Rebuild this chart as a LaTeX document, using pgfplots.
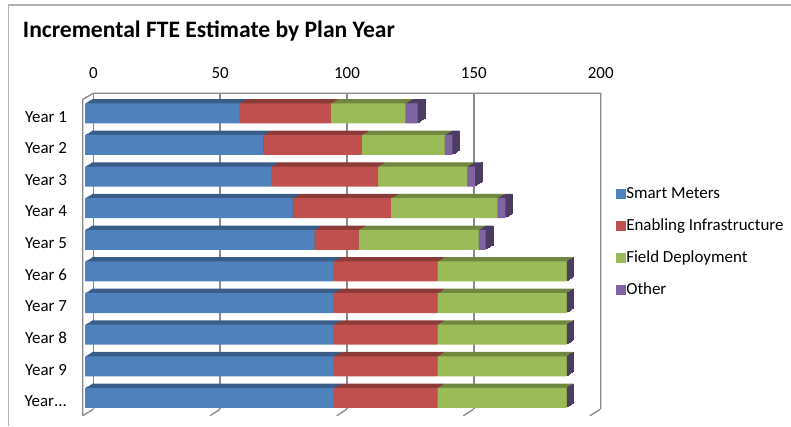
\documentclass[border=0pt]{standalone}
\usepackage{fontspec}
\setmainfont{Carlito}
\usepackage{pgfplots}
\usepackage{pgfplotstable}
\pgfplotsset{compat=1.18}
\definecolor{cSM}{HTML}{4F81BD}
\definecolor{cEI}{HTML}{C0504D}
\definecolor{cFD}{HTML}{9BBB59}
\definecolor{cOT}{HTML}{8064A2}
\definecolor{gridc}{HTML}{8A8A8A}
\newcommand{\yrdots}{Year\kern0pt.\kern0pt.\kern0pt.}
% pos: 10 = Year 1 (top), 1 = Year 10 (bottom)
\pgfplotstableread{
pos sm ei fd ot
10 61.2 36.4 29.5 4.9
9 70.8 39.0 32.9 3.1
8 73.9 42.4 35.3 3.1
7 82.4 39.0 42.2 3.2
6 91.0 17.6 47.6 2.8
5 98.7 41.1 51.3 0
4 98.7 41.1 51.3 0
3 98.7 41.1 51.3 0
2 98.7 41.1 51.3 0
1 98.7 41.1 51.3 0
}\datatable
\begin{document}
\begin{tikzpicture}[x=0.75pt,y=-0.75pt]
\useasboundingbox (0,0) rectangle (791,426);
\draw[color=gray!60, line width=0.8pt] (8.3,426) -- (8.3,5) -- (791,5);
\node[anchor=base west, font=\fontsize{17.7}{20}\selectfont\bfseries, inner sep=0] at (22.7,37.5) {Incremental FTE Estimate by Plan Year};
% back wall with grid
\begin{axis}[at={(69.975pt,-306.975pt)}, anchor=south west, scale only axis,
  width=380.55pt, height=237pt, xmin=0, xmax=200, ymin=0, ymax=1,
  axis line style={draw=none}, xtick={0,50,100,150,200}, ytick=\empty,
  xticklabel pos=upper, major tick length=0pt,
  xmajorgrids, grid style={color=gridc, line width=1pt},
  xticklabel shift=7.8pt,
  tick label style={font=\fontsize{12.7}{14}\selectfont},
  /pgf/number format/assume math mode=true]
\addplot[draw=none] coordinates {(0,0)};
\end{axis}
\draw[color=gridc, line width=1pt] (82.7,415.7) -- (82.7,99.3) -- (93.3,93.3) -- (600.7,93.3) -- (600.7,409.3);
\draw[color=gridc, line width=1pt] (82.7,415.7) -- (93.3,409.3);
\foreach \v in {50,100,150,200} {
  \draw[color=gridc, line width=1pt] ({83.5+2.532*\v},415.7) -- ({93.3+2.534*\v},409.3);
}
% depth (top and side faces), layered from back to front
\foreach \k in {6,5,4,3,2,1} {
\begin{axis}[at={({63.75pt+0.875pt*\k},{-310.275pt+0.5375pt*\k})}, anchor=south west, scale only axis,
  width=378pt, height=237.15pt, xmin=0, xmax=200, ymin=0.5, ymax=10.5,
  hide axis, xbar stacked, bar width=15pt]
\addplot[fill=cSM!72!black, draw=none] table[x=sm,y=pos]{\datatable};
\addplot[fill=cEI!72!black, draw=none] table[x=ei,y=pos]{\datatable};
\addplot[fill=cFD!72!black, draw=none] table[x=fd,y=pos]{\datatable};
\addplot[fill=cOT!60!black, draw=none] table[x=ot,y=pos]{\datatable};
\end{axis}
\begin{axis}[at={({63.75pt+0.875pt*\k},{-310.275pt+0.5375pt*\k})}, anchor=south west, scale only axis,
  width=378pt, height=237.15pt, xmin=0, xmax=200, ymin=0.5, ymax=10.5,
  hide axis, clip=false]
\addplot[only marks, mark=|, mark size=7.5pt, color=cOT!60!black, line width=1.3pt]
  table[x expr=\thisrow{sm}+\thisrow{ei}+\thisrow{fd}+\thisrow{ot}, y=pos]{\datatable};
\end{axis}
}
% front faces
\begin{axis}[at={(63.75pt,-310.275pt)}, anchor=south west, scale only axis,
  width=378pt, height=237.15pt, xmin=0, xmax=200, ymin=0.5, ymax=10.5,
  axis line style={draw=none}, xtick=\empty, ytick={1,2,3,4,5,6,7,8,9,10},
  yticklabels={\yrdots,Year 9,Year 8,Year 7,Year 6,Year 5,Year 4,Year 3,Year 2,Year 1},
  major tick length=0pt, yticklabel shift=10pt,
  yticklabel style={font=\fontsize{12.7}{14}\selectfont, yshift=-2.5pt},
  xbar stacked, bar width=15pt,
  legend style={at={(1.0536,0.72)}, anchor=north west, draw=none, fill=none,
    inner sep=0pt, row sep=12pt, font=\fontsize{12.7}{14}\selectfont,
    nodes={inner sep=0pt, text height=9pt, text depth=3pt},
    /tikz/every even column/.append style={column sep=1.7pt}},
  legend cell align=left,
  legend image code/.code={\fill[#1] (0pt,-3.75pt) rectangle (7.5pt,3.75pt);}]
\addplot[fill=cSM, draw=none] table[x=sm,y=pos]{\datatable};
\addlegendentry{Smart Meters}
\addplot[fill=cEI, draw=none] table[x=ei,y=pos]{\datatable};
\addlegendentry{Enabling Infrastructure}
\addplot[fill=cFD, draw=none] table[x=fd,y=pos]{\datatable};
\addlegendentry{Field Deployment}
\addplot[fill=cOT, draw=none] table[x=ot,y=pos]{\datatable};
\addlegendentry{Other}
\end{axis}
\end{tikzpicture}
\end{document}
